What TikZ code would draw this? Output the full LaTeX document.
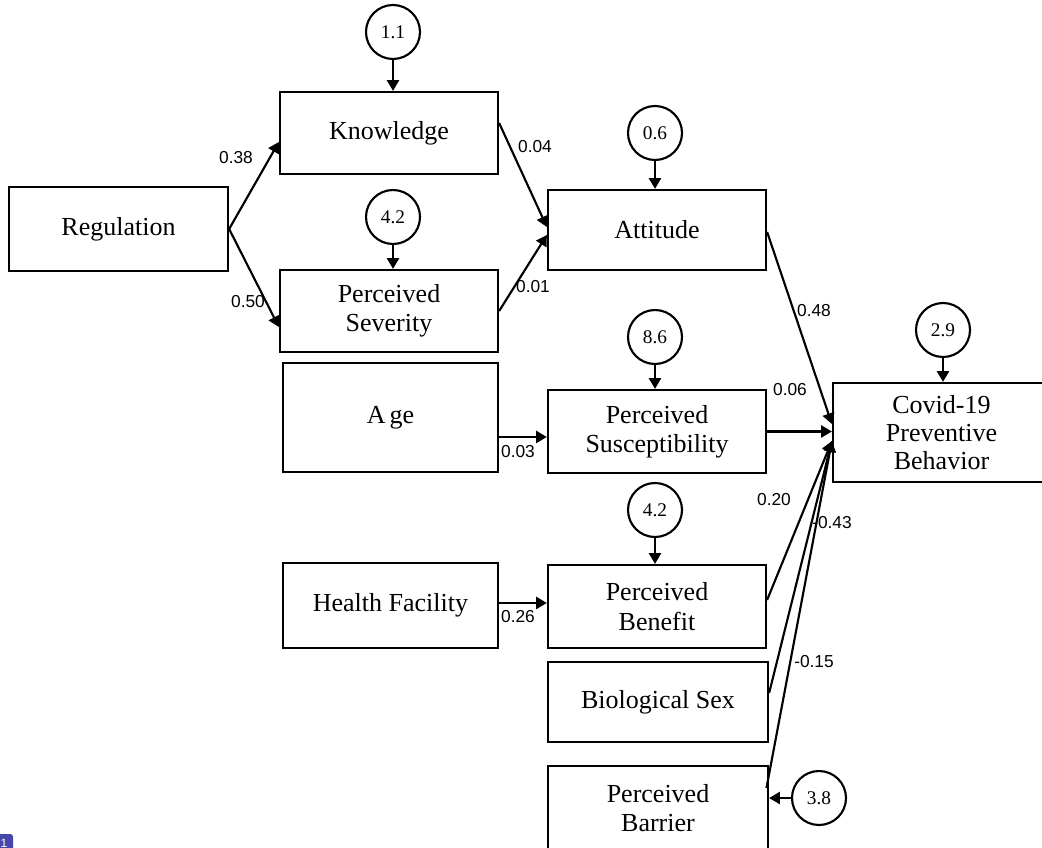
\documentclass[tikz,border=0pt]{standalone}
\usepackage{fontspec}
\setmainfont{Liberation Serif}
\newfontfamily\lblfont{Liberation Sans}
\usetikzlibrary{arrows.meta,calc}
\begin{document}
\begin{tikzpicture}[x=0.75pt,y=-0.75pt,
  box/.style={draw,line width=1.7pt,align=center,font=\fontsize{19.5}{22}\selectfont,inner sep=0pt},
  bx/.style 2 args={box,minimum width=#1*0.75pt,minimum height=#2*0.75pt},
  err/.style={draw,circle,line width=1.6pt,minimum size=40.5pt,inner sep=0pt,font=\fontsize{14.5}{16}\selectfont},
  lbl/.style={font=\lblfont\fontsize{13}{14}\selectfont,inner sep=0pt},
  arr/.style={line width=1.6pt,-{Triangle[length=8pt,width=9pt]}},
  ln/.style={line width=1.6pt}]
\useasboundingbox (0,0) rectangle (1042,848);
\clip (0,0) rectangle (1042,848);
% boxes
\node[bx={219}{84}] (reg) at (118.5,229) {Regulation};
\node[bx={218}{82}] (know) at (389,133) {Knowledge};
\node[bx={218}{82}] (sev) at (389,311) {Perceived\\Severity};
\node[bx={218}{80}] (att) at (657,230) {Attitude};
\node[bx={215}{109}] (age) at (390.5,417.5) {A\kern3pt ge};
\node[bx={218}{83}] (sus) at (657,431.5) {Perceived\\Susceptibility};
\node[bx={215}{85}] (hf) at (390.5,605.5) {Health Facility};
\node[bx={218}{83}] (ben) at (657,606.5) {Perceived\\Benefit};
\node[bx={220}{80}] (sex) at (658,702) {Biological Sex};
\node[bx={220}{84}] (bar) at (658,808) {Perceived\\Barrier};
\node[bx={217}{99}, font=\fontsize{19.5}{21}\selectfont] (cov) at (941.5,432.5) {Covid-19\\Preventive\\Behavior};
% error circles
\node[err] (e1) at (393,32) {1.1};
\node[err] (e2) at (393,217) {4.2};
\node[err] (e3) at (655,133) {0.6};
\node[err] (e4) at (655,337) {8.6};
\node[err] (e5) at (655,510) {4.2};
\node[err] (e6) at (943,330) {2.9};
\node[err] (e7) at (819,798) {3.8};
\draw[arr] (e1) -- (e1 |- know.north);
\draw[arr] (e2) -- (e2 |- sev.north);
\draw[arr] (e3) -- (e3 |- att.north);
\draw[arr] (e4) -- (e4 |- sus.north);
\draw[arr] (e5) -- (e5 |- ben.north);
\draw[arr] (e6) -- (e6 |- cov.north);
\draw[arr] (e7) -- (e7 -| bar.east);
% paths
\draw[arr] (reg.east) -- ([yshift=-6.75pt]know.west);
\draw[arr] (reg.east) -- ([yshift=-12pt]sev.west);
\draw[arr] ([yshift=7.5pt]know.east) -- ([yshift=2.25pt]att.west);
\draw[arr] (sev.east) -- ([yshift=-3.75pt]att.west);
\coordinate (a1) at ([yshift=-14.6pt]age.east);
\draw[arr] (a1) -- (a1 -| sus.west);
\coordinate (h1) at ([yshift=1.9pt]hf.east);
\draw[arr] (h1) -- (h1 -| ben.west);
\coordinate (tA) at ([yshift=6.4pt]cov.west);
\coordinate (tB) at ([yshift=-6.4pt]cov.west);
\draw[arr] ([yshift=-1.5pt]att.east) -- (tA);
\draw[arr] (sus.east) -- (sus.east -| cov.west);
\draw[arr] ([yshift=4.9pt]ben.east) -- (tB);
\draw[arr] ([yshift=6.75pt]sex.east) -- (tB);
\draw[arr] ([xshift=-2pt,yshift=15pt]bar.east) -- (tB);
% labels
\node[lbl] (l1) at (236,158) {0.38};
\node[lbl] (l2) at (248,302) {0.50};
\node[lbl] (l3) at (535,147) {0.04};
\node[lbl] (l4) at (533,287) {0.01};
\node[lbl] (l5) at (814,311) {0.48};
\node[lbl] (l6) at (790,390) {0.06};
\node[lbl] (l7) at (518,452) {0.03};
\node[lbl] (l8) at (774,500) {0.20};
\node[lbl] (l9) at (832,523) {-0.43};
\node[lbl] (l10) at (518,617) {0.26};
\node[lbl] (l11) at (814,662) {-0.15};
% badge
\node[fill={rgb,255:red,70;green,70;blue,170},rounded corners=2pt,text=white,font=\lblfont\fontsize{9}{9}\selectfont,minimum size=13.5pt,inner sep=0pt] (badge) at (4,843) {1};
\end{tikzpicture}
\end{document}
